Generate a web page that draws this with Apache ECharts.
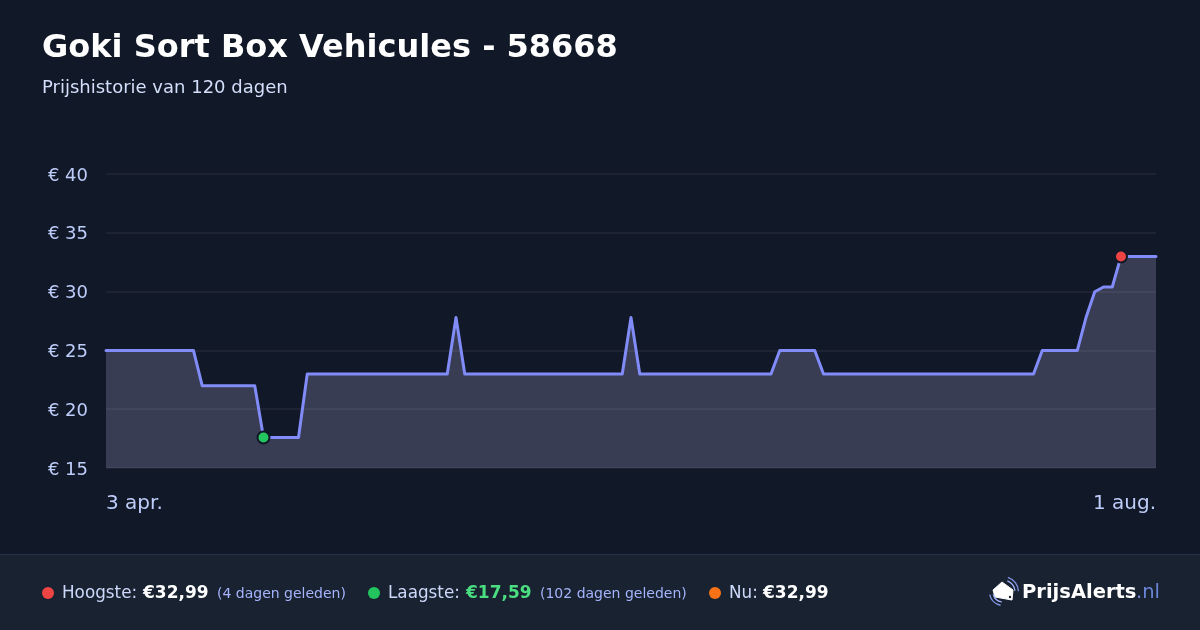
<!DOCTYPE html>
<html><head><meta charset="utf-8">
<style>html,body{margin:0;padding:0;background:#111827}#c{width:1200px;height:630px}</style>
<script src="https://cdn.jsdelivr.net/npm/echarts@6/dist/echarts.min.js"></script>
</head><body><div id="c"></div>
<script>
const prices = [
24.99,24.99,24.99,24.99,24.99,24.99,24.99,24.99,24.99,24.99,24.99,
21.99,21.99,21.99,21.99,21.99,21.99,21.99,
17.59,17.59,17.59,17.59,17.59,
22.99,22.99,22.99,22.99,22.99,22.99,22.99,22.99,22.99,22.99,22.99,22.99,22.99,22.99,22.99,22.99,22.99,
27.79,
22.99,22.99,22.99,22.99,22.99,22.99,22.99,22.99,22.99,22.99,22.99,22.99,22.99,22.99,22.99,22.99,22.99,22.99,22.99,
27.79,
22.99,22.99,22.99,22.99,22.99,22.99,22.99,22.99,22.99,22.99,22.99,22.99,22.99,22.99,22.99,22.99,
24.99,24.99,24.99,24.99,24.99,
22.99,22.99,22.99,22.99,22.99,22.99,22.99,22.99,22.99,22.99,22.99,22.99,22.99,22.99,22.99,22.99,22.99,22.99,22.99,22.99,22.99,22.99,22.99,22.99,22.99,
24.99,24.99,24.99,24.99,24.99,
27.79,29.99,30.39,30.39,
32.99,32.99,32.99,32.99,32.99
];
const xTickLabels = ['3 apr.', '1 aug.'];
const yTicks = [15, 20, 25, 30, 35, 40];
const lowestPoint = [18, 17.59];
const highestPoint = [116, 32.99];
const days = prices.map((_, i) => i);

const C = {bg:'#111827', foot:'#182230', line:'#818cf8', tick:'#bfcdfb', sub:'#a5b4fc'};
const F = 'DejaVu Sans';
const txt = (x, y, text, size, color, weight) => ({type:'text', x, y, silent:true, z:10,
  style:{text, fontFamily:F, fontSize:size, fill:color, fontWeight:weight||'normal', textVerticalAlign:'middle'}});
const dot = (cx, color) => ({type:'circle', silent:true, z:10, shape:{cx, cy:593, r:6}, style:{fill:color}});
const arc = (cx, cy, r, a0, a1, color) => ({type:'arc', z:10, shape:{cx, cy, r, startAngle:a0, endAngle:a1, clockwise:true},
  style:{fill:'none', stroke:color, lineWidth:1.4}});

const chart = echarts.init(document.getElementById('c'), null, {renderer:'canvas'});
chart.setOption({
  animation:false,
  backgroundColor:C.bg,
  grid:{left:106, right:44, top:174, bottom:162},
  xAxis:{type:'category', boundaryGap:false, data:days,
    axisLine:{show:false}, axisTick:{show:false}, splitLine:{show:false},
    axisLabel:{margin:26, color:C.tick, fontFamily:F, fontSize:20, showMinLabel:true, showMaxLabel:true,
      alignMinLabel:'left', alignMaxLabel:'right',
      interval:(i)=> i===0 || i===prices.length-1,
      formatter:(v,i)=> i===0 ? xTickLabels[0] : xTickLabels[1]}},
  yAxis:{type:'value', min:yTicks[0], max:yTicks[yTicks.length-1], interval:5,
    axisLine:{show:false}, axisTick:{show:false},
    splitLine:{lineStyle:{color:'rgba(255,255,255,0.05)', width:2}},
    axisLabel:{margin:18, color:C.tick, fontFamily:F, fontSize:18, verticalAlign:'top', lineHeight:4, formatter:'€ {value}'}},
  series:[
    {type:'line', data:prices, symbol:'none', smooth:false,
     lineStyle:{color:C.line, width:3, join:'round', cap:'round'},
     areaStyle:{color:'rgba(205,205,250,0.21)', opacity:1}},
    {type:'scatter', data:[lowestPoint], symbolSize:12, z:5,
     itemStyle:{color:'#22c55e', opacity:1, borderColor:C.bg, borderWidth:2}},
    {type:'scatter', data:[highestPoint], symbolSize:12, z:5,
     itemStyle:{color:'#ef4444', opacity:1, borderColor:C.bg, borderWidth:2}}
  ],
  graphic:{elements:[
    txt(42,49,'Goki Sort Box Vehicules - 58668',32,'#ffffff','bold'),
    txt(42,88,'Prijshistorie van 120 dagen',18,'#d3dffb'),
    {type:'rect', silent:true, z:1, shape:{x:0,y:554,width:1200,height:76}, style:{fill:C.foot}},
    {type:'rect', silent:true, z:1, shape:{x:0,y:554,width:1200,height:1}, style:{fill:'#252f4a'}},
    dot(48,'#ef4444'),
    txt(62,594,'Hoogste:',16.8,'#cdd9fb'),
    txt(143,594,'€32,99',17,'#ffffff','bold'),
    txt(217,594,'(4 dagen geleden)',14,'#a5b4fc'),
    dot(374,'#22c55e'),
    txt(388,594,'Laagste:',16.8,'#cdd9fb'),
    txt(466,594,'€17,59',17,'#4ade80','bold'),
    txt(540,594,'(102 dagen geleden)',14,'#a5b4fc'),
    dot(715,'#f97316'),
    txt(729,594,'Nu:',16.8,'#cdd9fb'),
    txt(763,594,'€32,99',17,'#ffffff','bold'),
    {type:'group', x:990, y:576, z:10, silent:true, children:[
      {type:'polygon', z:10, shape:{points:[[12,6],[23,14],[22,24],[5,21],[3,14]]}, style:{fill:'#ffffff', stroke:'#ffffff', lineWidth:1, lineJoin:'round'}},
      {type:'circle', z:11, shape:{cx:20,cy:21,r:1.2}, style:{fill:'#182230'}},
      arc(13,16,12,-1.2,-0.1,'#a5b4fc'),
      arc(13,16,15.5,-1.25,-0.05,'#7d90e0'),
      arc(13,16,10,1.7,2.9,'#a5b4fc'),
      arc(13,16,13.5,1.75,2.95,'#7d90e0')
    ]},
    txt(1022,593,'PrijsAlerts',19.5,'#ffffff','bold'),
    txt(1136,593,'.nl',19.5,'#6b86d8')
  ]}
});
</script></body></html>
